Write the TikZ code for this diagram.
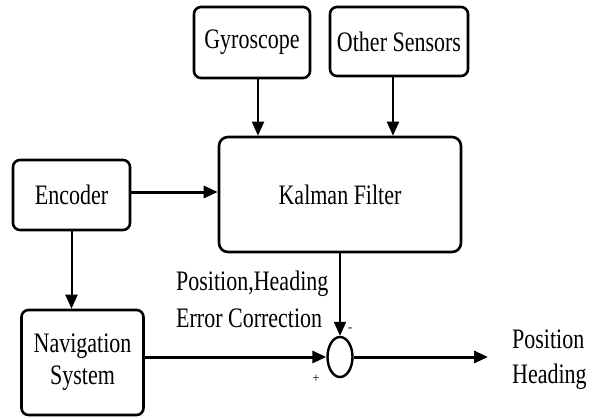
\documentclass[tikz,border=0pt]{standalone}
\usepackage{fontspec}
\setmainfont{Liberation Serif}
\usepackage{graphicx}
\usetikzlibrary{arrows.meta,shapes.geometric}
% tall, narrow lettering
\newcommand{\tallstr}[1]{\scalebox{1}[1.28]{#1}}

\begin{document}
\begin{tikzpicture}[x=1pt,y=-1pt,
  block/.style={draw, line width=2.6pt, rounded corners=7pt, inner sep=0pt,
                font=\fontsize{22}{26}\selectfont, align=center},
  flow/.style={line width=2pt, -{Triangle[length=14pt,width=12pt]}},
  bigflow/.style={flow, line width=3pt},
  caption/.style={inner sep=0pt, font=\fontsize{22}{26}\selectfont},
  sign/.style={inner sep=0pt, font=\fontsize{13}{15}\selectfont}]
\useasboundingbox (0,0) rectangle (599,418);

% blocks
\node[block, minimum width=116pt, minimum height=71pt] (gyro) at (252,42.5) {\tallstr{Gyroscope}};
\node[block, minimum width=138pt, minimum height=69pt] (other) at (399,41.5) {\tallstr{Other Sensors}};
\node[block, rounded corners=9pt, minimum width=242pt, minimum height=115pt] (kalman) at (340,194.5) {\tallstr{Kalman Filter}};
\node[block, minimum width=117pt, minimum height=70pt] (enc) at (71.5,195) {\tallstr{Encoder}};
\node[block, minimum width=122pt, minimum height=105pt, font=\fontsize{22}{32}\selectfont] (nav) at (82.5,362.5) {\tallstr{Navigation}\\\tallstr{System}};
\node[draw, ellipse, line width=2.4pt, minimum width=25pt, minimum height=40pt, inner sep=0pt] (sum) at (340,357) {};
\coordinate (out) at (488,357);

% connectors
\draw[flow] ([xshift=6pt]gyro.south) -- ([xshift=6pt]gyro.south |- kalman.north);
\draw[flow] ([xshift=-6pt]other.south) -- ([xshift=-6pt]other.south |- kalman.north);
\draw[bigflow] ([yshift=3pt]enc.east) -- ([yshift=3pt]enc.east -| kalman.west);
\draw[flow] (enc.south) -- (enc.south |- nav.north);
\draw[bigflow] (nav.east |- sum.west) -- (sum.west);
\draw[flow] (kalman.south) -- (sum.north);
\draw[bigflow] (sum.east) -- (out);

% labels
\node[caption, anchor=base west] (corr1) at (176,290) {\tallstr{Position,Heading}};
\node[caption, anchor=base west] (corr2) at (176,327) {\tallstr{Error Correction}};
\node[caption, anchor=base west] (res1) at (512,348) {\tallstr{Position}};
\node[caption, anchor=base west] (res2) at (512,383) {\tallstr{Heading}};
\node[sign] (minus) at (350,330) {-};
\node[sign] (plus) at (316,379) {+};
\end{tikzpicture}
\end{document}
